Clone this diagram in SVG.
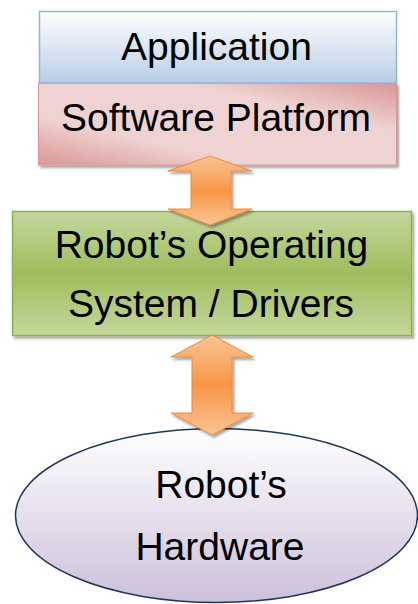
<svg xmlns="http://www.w3.org/2000/svg" width="418" height="604" viewBox="0 0 418 604">
<defs>
<linearGradient id="gApp" x1="0" y1="0" x2="0" y2="1"><stop offset="0" stop-color="#ffffff"/><stop offset="1" stop-color="#b9cde5"/></linearGradient>
<linearGradient id="gSw" x1="0" y1="1" x2="1" y2="0"><stop offset="0" stop-color="#d99694"/><stop offset="0.3" stop-color="#efd3d2"/><stop offset="0.7" stop-color="#efd3d2"/><stop offset="1" stop-color="#d99694"/></linearGradient>
<linearGradient id="gOs" x1="0" y1="0" x2="0" y2="1"><stop offset="0" stop-color="#c4d79d"/><stop offset="0.5" stop-color="#9fbd5c"/><stop offset="1" stop-color="#c4d79d"/></linearGradient>
<linearGradient id="gHw" x1="0" y1="0" x2="0" y2="1"><stop offset="0" stop-color="#ffffff"/><stop offset="1" stop-color="#ccc0da"/></linearGradient>
<linearGradient id="gAr" x1="0" y1="0" x2="0" y2="1"><stop offset="0" stop-color="#fac494"/><stop offset="0.5" stop-color="#f79646"/><stop offset="1" stop-color="#fac494"/></linearGradient>
<filter id="sh" x="-10%" y="-10%" width="120%" height="130%"><feDropShadow dx="2" dy="2.5" stdDeviation="1" flood-color="#000" flood-opacity="0.35"/></filter>
</defs>
<style>
.t{font-family:"Liberation Sans",Arial,sans-serif;font-size:39px;fill:#000;text-anchor:middle}
.ar{fill:url(#gAr);stroke:#f08a3a;stroke-width:1;filter:url(#sh)}
</style>
<g id="software">
<rect x="38.5" y="83" width="358" height="82" fill="url(#gSw)" stroke="#d99694" stroke-width="1" filter="url(#sh)"/>
<text class="t" x="216" y="131">Software Platform</text>
</g>
<g id="application">
<rect x="39.5" y="11.5" width="357" height="71.5" fill="url(#gApp)" stroke="#95b3d7" stroke-width="1.5"/>
<text class="t" x="216.5" y="60">Application</text>
</g>
<g id="os">
<rect x="12.5" y="211.5" width="399" height="124" fill="url(#gOs)" stroke="#8db04e" stroke-width="1.5" filter="url(#sh)"/>
<text class="t" x="211.5" y="258">Robot’s Operating</text>
<text class="t" x="211" y="317">System / Drivers</text>
</g>
<g id="hardware">
<ellipse cx="216.5" cy="515.5" rx="201" ry="87" fill="url(#gHw)" stroke="#1f3556" stroke-width="1.5"/>
<text class="t" x="221" y="498">Robot’s</text>
<text class="t" x="220" y="560">Hardware</text>
</g>
<g id="connectors">
<path class="ar" d="M210,156 L252,171 L231,171 L231,209 L252,209 L210,225 L168,209 L191,209 L191,171 L168,171 Z"/>
<path class="ar" d="M212,335 L253,357 L232,357 L232,413 L253,413 L212,435 L171,413 L192,413 L192,357 L171,357 Z"/>
</g>
</svg>
